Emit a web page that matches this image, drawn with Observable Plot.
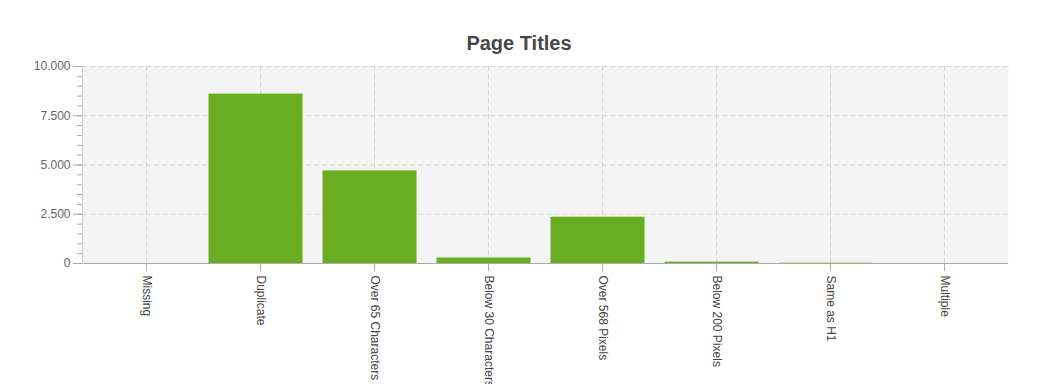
<!DOCTYPE html>
<html>
<head>
<meta charset="utf-8">
<script src="https://cdn.jsdelivr.net/npm/d3@7"></script>
<script src="https://cdn.jsdelivr.net/npm/@observablehq/plot@0.6"></script>
<style>
  html, body { margin: 0; padding: 0; background: #fff; }
  #title { height: 56px; width: 1038px; text-align: center; font-family: "Liberation Sans", Arial, sans-serif;
           font-weight: bold; font-size: 20px; color: #474747; line-height: 20px; box-sizing: border-box; padding-top: 33px; }
  #chart svg { display: block; }
</style>
</head>
<body>
<div id="title">Page Titles</div>
<div id="chart"></div>
<script>
const categories = ["Missing", "Duplicate", "Over 65 Characters", "Below 30 Characters", "Over 568 Pixels", "Below 200 Pixels", "Same as H1", "Multiple"];
const values = [0, 8600, 4700, 280, 2350, 70, 15, 0];
const majorTicks = [0, 2500, 5000, 7500, 10000];
const minorTicks = d3.range(0, 10001, 500);

const data = categories.map((c, i) => ({category: c, value: values[i]}));
const fmt = d => d3.format(",")(d).replace(/,/g, ".");

const chart = Plot.plot({
  width: 1038,
  height: 328,
  marginTop: 10,
  marginBottom: 121,
  marginLeft: 82,
  marginRight: 30,
  style: {background: "#fff", fontFamily: "'Liberation Sans', Arial, sans-serif", fontSize: "12px", color: "#555"},
  x: {domain: categories, paddingInner: 0.175, paddingOuter: 0.135, label: null},
  y: {domain: [0, 10000], label: null},
  marks: [
    Plot.frame({fill: "#f4f4f4", stroke: null}),
    Plot.gridY(majorTicks.slice(1), {stroke: "#d4d4d4", strokeOpacity: 1, strokeDasharray: "5,3"}),
    Plot.gridX(categories, {stroke: "#d4d4d4", strokeOpacity: 1, strokeDasharray: "5,3"}),
    Plot.barY(data, {x: "category", y: "value", fill: "#6aad20", dx: -4.5}),
    Plot.ruleY([0], {stroke: "#aaa"}),
    Plot.frame({anchor: "left", stroke: "#ccc"}),
    Plot.axisY(minorTicks, {tickSize: 5, tickFormat: () => "", stroke: "#aaa"}),
    Plot.axisY(majorTicks, {tickSize: 9, tickPadding: 3, tickFormat: fmt, stroke: "#aaa", fill: "#666"}),
    Plot.axisX({tickRotate: 90, tickSize: 8, tickPadding: 4, stroke: "#aaa", fill: "#444"})
  ]
});
document.getElementById("chart").appendChild(chart);
</script>
</body>
</html>
